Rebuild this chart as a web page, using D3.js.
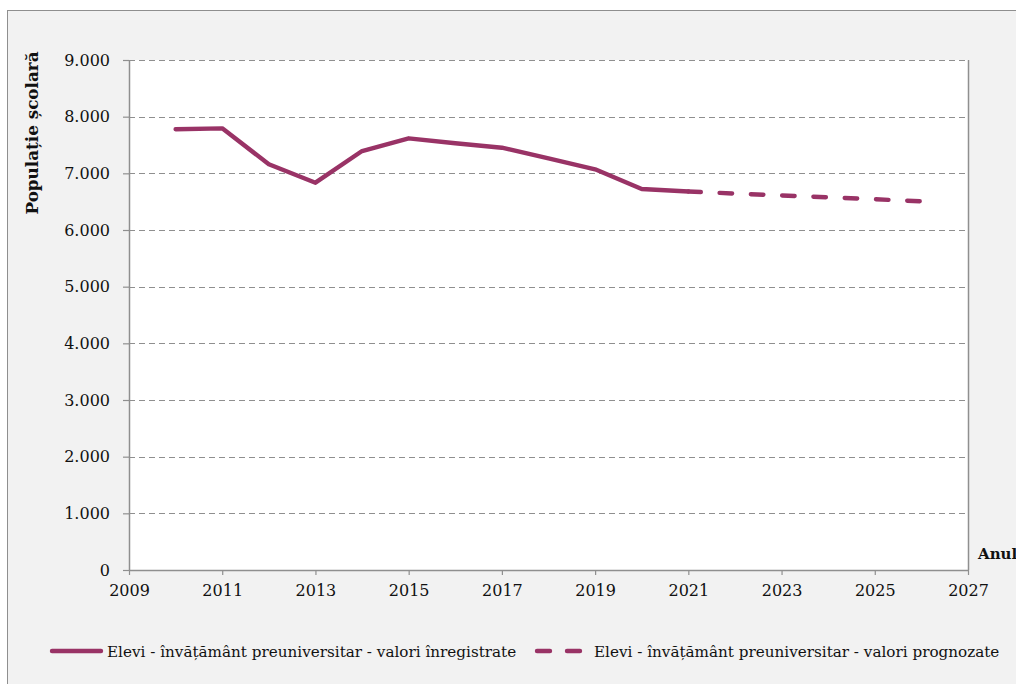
<!DOCTYPE html>
<html lang="ro">
<head>
<meta charset="utf-8">
<script src="https://cdn.jsdelivr.net/npm/d3@7/dist/d3.min.js"></script>
<style>
  html, body { margin: 0; padding: 0; background: #ffffff; }
  svg { display: block; font-family: "DejaVu Serif", serif; }
</style>
</head>
<body>
<svg id="chart" width="1016" height="684"></svg>
<script>
// Elevi în învățământul preuniversitar: valori înregistrate și prognozate
const recordedYears = [2010, 2011, 2012, 2013, 2014, 2015, 2016, 2017, 2018, 2019, 2020, 2021];
const recordedValues = [7777, 7794, 7160, 6835, 7394, 7618, 7530, 7452, 7265, 7071, 6723, 6680];
const forecastYears = [2021, 2022, 2023, 2024, 2025, 2026];
const forecastValues = [6680, 6643, 6610, 6577, 6543, 6506];
const xTicks = [2009, 2011, 2013, 2015, 2017, 2019, 2021, 2023, 2025, 2027];
const yTicks = [0, 1000, 2000, 3000, 4000, 5000, 6000, 7000, 8000, 9000];
const seriesLabels = [
  "Elevi - învățământ preuniversitar - valori înregistrate",
  "Elevi - învățământ preuniversitar - valori prognozate"
];
const yTitle = "Populație școlară";
const xTitle = "Anul";

const lineColor = "#993366";
const axisColor = "#8f8f8f";
const fontFamily = "'DejaVu Serif', serif";

const svg = d3.select("#chart");

// chart frame (extends past the window on the right and bottom)
svg.append("rect")
  .attr("x", 7.5).attr("y", 10.5)
  .attr("width", 1100).attr("height", 800)
  .attr("fill", "#f2f2f2")
  .attr("stroke", axisColor).attr("stroke-width", 1);

const plot = { left: 129, right: 968, top: 60, bottom: 570 };

const x = d3.scaleLinear().domain([2009, 2027]).range([plot.left, plot.right]);
const y = d3.scaleLinear().domain([0, 9000]).range([plot.bottom, plot.top]);

// plot area
svg.append("rect")
  .attr("x", plot.left).attr("y", plot.top)
  .attr("width", plot.right - plot.left).attr("height", plot.bottom - plot.top)
  .attr("fill", "#ffffff");

// dashed horizontal gridlines
svg.append("g")
  .selectAll("line")
  .data(yTicks.filter(d => d > 0))
  .join("line")
  .attr("x1", plot.left).attr("x2", plot.right)
  .attr("y1", d => Math.round(y(d)) + 0.5).attr("y2", d => Math.round(y(d)) + 0.5)
  .attr("stroke", axisColor).attr("stroke-width", 1.2)
  .attr("stroke-dasharray", "6,4");

// right edge of plot area
svg.append("line")
  .attr("x1", plot.right + 0.5).attr("x2", plot.right + 0.5)
  .attr("y1", plot.top).attr("y2", plot.bottom)
  .attr("stroke", axisColor).attr("stroke-width", 1.5);

const locale = d3.formatLocale({ decimal: ",", thousands: ".", grouping: [3], currency: ["", " lei"] });
const fmt = locale.format(",d");

const yAxis = svg.append("g")
  .attr("transform", `translate(${plot.left},0)`)
  .call(d3.axisLeft(y).tickValues(yTicks).tickFormat(fmt).tickSize(6).tickPadding(13).tickSizeOuter(0));

const xAxis = svg.append("g")
  .attr("transform", `translate(0,${plot.bottom})`)
  .call(d3.axisBottom(x).tickValues(xTicks).tickFormat(d3.format("d")).tickSize(5).tickPadding(10).tickSizeOuter(0));

[yAxis, xAxis].forEach(g => {
  g.attr("font-family", null).attr("font-size", null);
  g.select(".domain").attr("stroke", axisColor).attr("stroke-width", 1.5);
  g.selectAll(".tick line").attr("stroke", axisColor).attr("stroke-width", 1.2);
  g.selectAll(".tick text")
    .attr("fill", "#111")
    .style("font-family", fontFamily)
    .style("font-size", "16px");
});

// series
const line = d3.line().x(d => x(d[0])).y(d => y(d[1]));

svg.append("path")
  .datum(recordedYears.map((yr, i) => [yr, recordedValues[i]]))
  .attr("d", line)
  .attr("fill", "none")
  .attr("stroke", lineColor).attr("stroke-width", 4.4)
  .attr("stroke-linejoin", "round").attr("stroke-linecap", "round");

svg.append("path")
  .datum(forecastYears.map((yr, i) => [yr, forecastValues[i]]))
  .attr("d", line)
  .attr("fill", "none")
  .attr("stroke", lineColor).attr("stroke-width", 4.4)
  .attr("stroke-linejoin", "round").attr("stroke-linecap", "round")
  .attr("stroke-dasharray", "12.5,18.8");

// axis titles
svg.append("text")
  .attr("transform", "translate(38,133) rotate(-90)")
  .attr("text-anchor", "middle")
  .style("font-family", fontFamily)
  .style("font-size", "16.8px").style("font-weight", "bold")
  .attr("fill", "#111")
  .text(yTitle);

svg.append("text")
  .attr("x", 978).attr("y", 559)
  .style("font-family", fontFamily)
  .style("font-size", "15px").style("font-weight", "bold")
  .attr("fill", "#111")
  .text(xTitle);

// legend
const legend = svg.append("g").attr("class", "legend")
  .style("font-family", fontFamily).style("font-size", "15.2px");
legend.append("line")
  .attr("x1", 52).attr("x2", 101).attr("y1", 651).attr("y2", 651)
  .attr("stroke", lineColor).attr("stroke-width", 4.4).attr("stroke-linecap", "round");
legend.append("text")
  .attr("x", 107).attr("y", 657)
  .attr("fill", "#111")
  .text(seriesLabels[0]);

legend.append("line")
  .attr("x1", 537).attr("x2", 583).attr("y1", 651).attr("y2", 651)
  .attr("stroke", lineColor).attr("stroke-width", 4.4).attr("stroke-linecap", "round")
  .attr("stroke-dasharray", "13,17");
legend.append("text")
  .attr("x", 594).attr("y", 657)
  .attr("fill", "#111")
  .text(seriesLabels[1]);
</script>
</body>
</html>
